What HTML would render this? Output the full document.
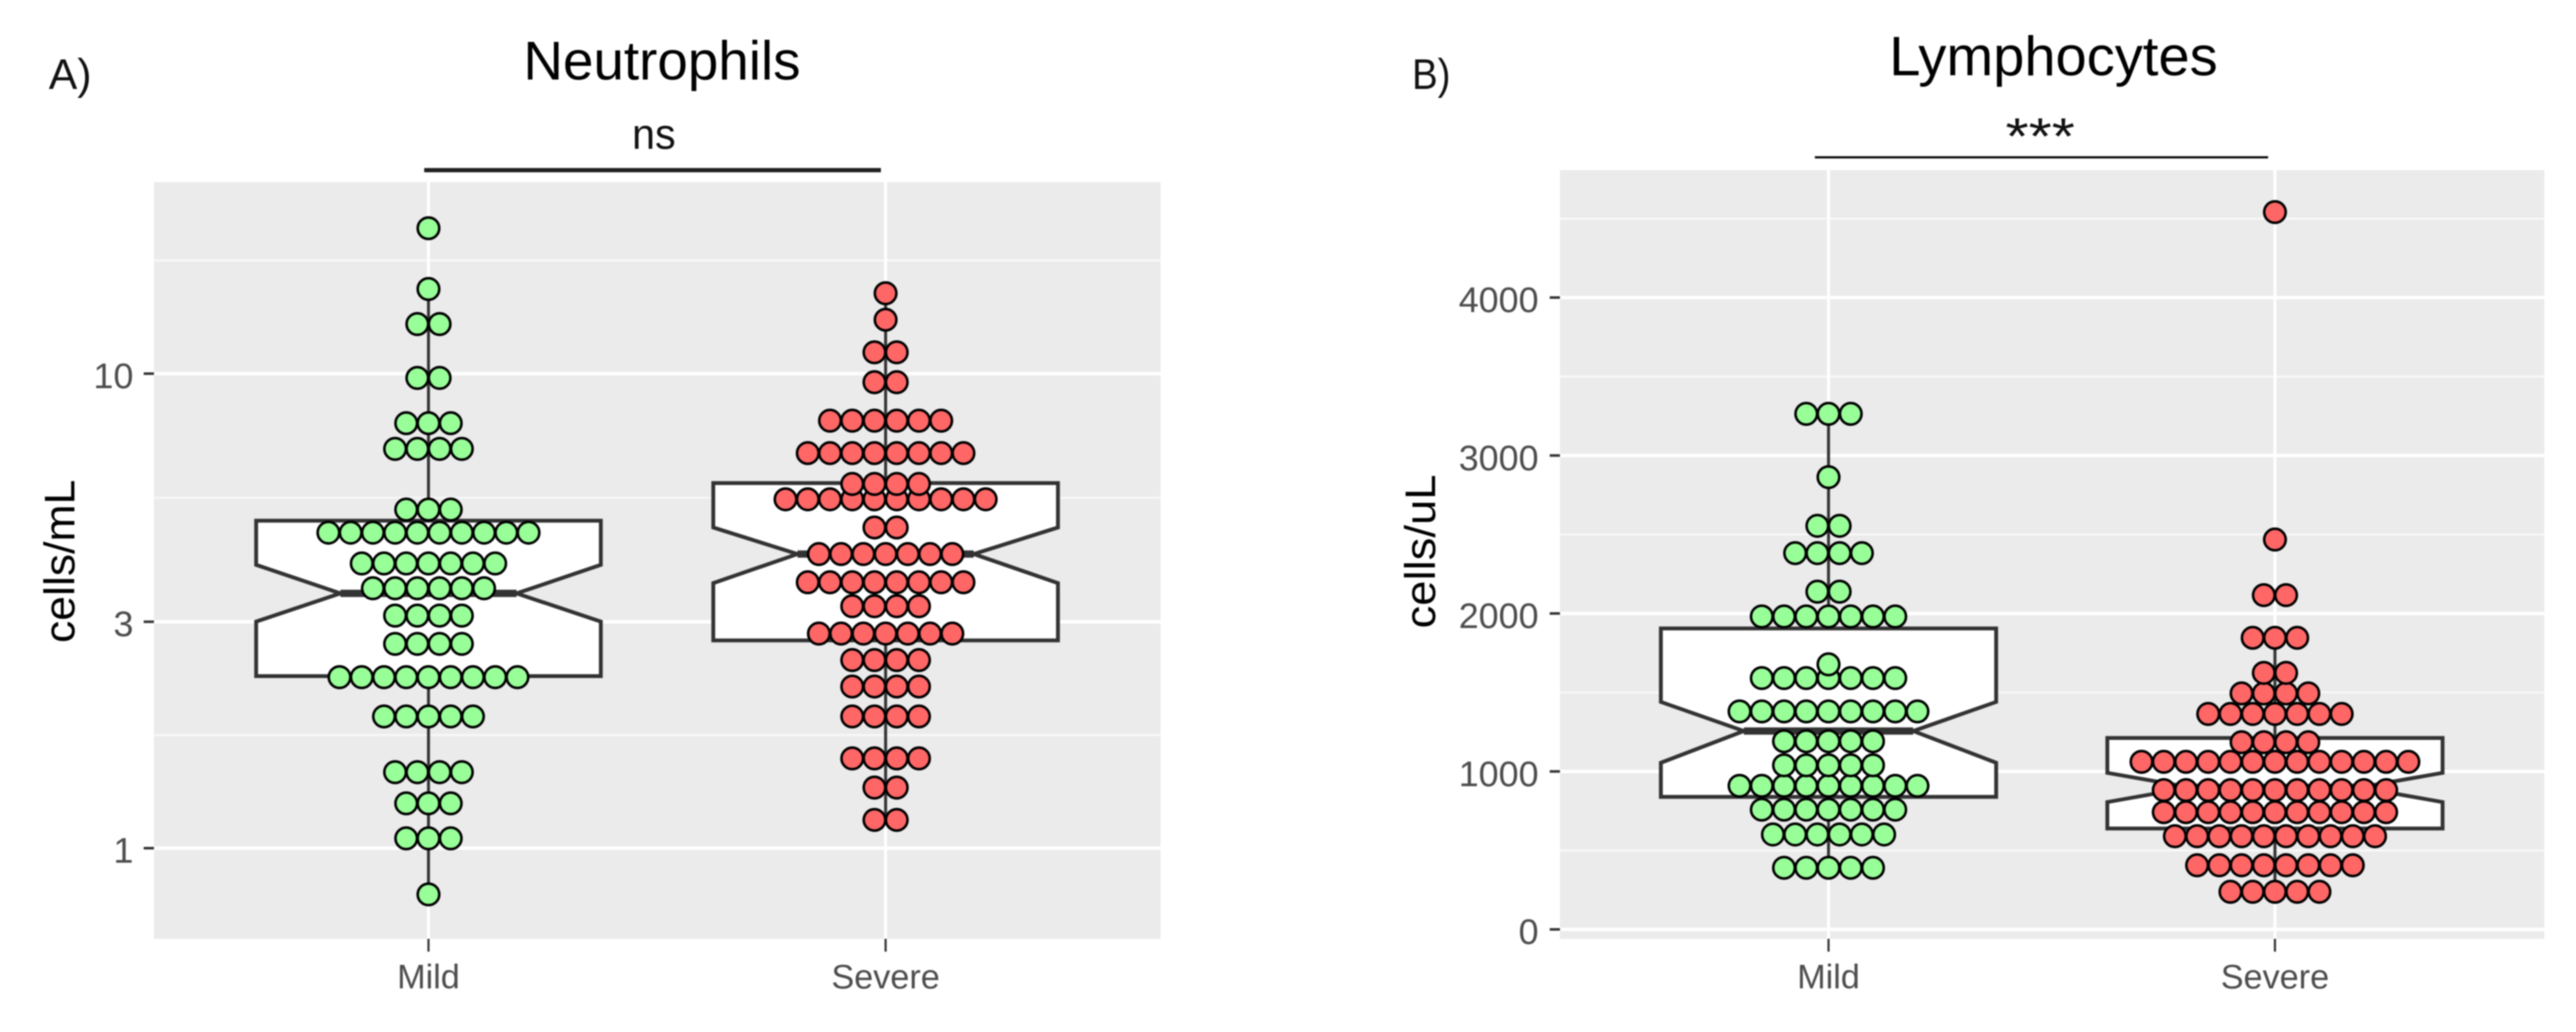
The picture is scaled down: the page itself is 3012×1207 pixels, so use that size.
<!DOCTYPE html>
<html>
<head>
<meta charset="utf-8">
<title>Neutrophils and Lymphocytes</title>
<style>
html,body{margin:0;padding:0;background:#fff;width:3012px;height:1207px;overflow:hidden}
svg{display:block;filter:blur(0.7px)}
text{font-family:"Liberation Sans",sans-serif}
</style>
</head>
<body>
<svg id="chart" xmlns="http://www.w3.org/2000/svg" width="3012" height="1207" viewBox="0 0 3012 1207"></svg>
<script>
// Shared categories
const categories = ['Mild', 'Severe'];

// Panel A: Neutrophils (log scale)
const neutroTicks = [1, 3, 10];
const neutroTickLabels = ['1', '3', '10'];
const neutroMinorTicks = [1.732, 5.477, 17.32];
const neutroMildValues = [0.799, 1.049, 1.243, 1.446, 1.895, 2.293, 2.695, 3.091, 3.53, 3.981, 4.623, 5.17, 6.941, 7.863, 9.795, 12.72, 15.08, 20.25];
const neutroMildCounts = [1, 3, 3, 4, 5, 9, 4, 4, 6, 7, 10, 3, 4, 3, 2, 2, 1, 1];
const neutroSevereValues = [1.147, 1.342, 1.546, 1.895, 2.191, 2.491, 2.833, 3.235, 3.634, 4.167, 4.74, 5.435, 5.855, 6.8, 7.96, 9.594, 11.09, 12.99, 14.77];
const neutroSevereCounts = [2, 2, 4, 4, 4, 4, 7, 4, 8, 7, 2, 10, 4, 8, 6, 2, 2, 1, 1];
// whiskerLow, q1, notchLow, median, notchHigh, q3, whiskerHigh
const neutroMildBox = [0.799, 2.305, 3.002, 3.443, 3.954, 4.899, 15.08];
const neutroSevereBox = [1.147, 2.741, 3.619, 4.167, 4.74, 5.881, 14.77];

// Panel B: Lymphocytes (linear scale)
const lymphoTicks = [0, 1000, 2000, 3000, 4000];
const lymphoTickLabels = ['0', '1000', '2000', '3000', '4000'];
const lymphoMinorTicks = [500, 1500, 2500, 3500, 4500];
const lymphoMildValues = [390, 601, 758, 909, 1039, 1191, 1380, 1591, 1678, 1981, 2138, 2382, 2555, 2863, 3264];
const lymphoMildCounts = [5, 6, 7, 9, 5, 5, 9, 7, 1, 7, 2, 4, 2, 1, 3];
const lymphoSevereValues = [238, 406, 590, 742, 882, 1061, 1185, 1364, 1494, 1624, 1846, 2116, 2468, 4541];
const lymphoSevereCounts = [5, 8, 10, 11, 11, 13, 4, 7, 4, 2, 3, 2, 1, 1];
const lymphoMildBox = [390, 839, 1055, 1256, 1440, 1905, 3264];
const lymphoSevereBox = [238, 639, 806, 899, 991, 1212, 1846];

const svg = document.getElementById('chart');
const NS = 'http://www.w3.org/2000/svg';
function make(tag, attrs, txt) {
  const n = document.createElementNS(NS, tag);
  for (const k in attrs) n.setAttribute(k, attrs[k]);
  if (txt !== undefined) n.textContent = txt;
  return n;
}

const panelA = {
  key: 'neutrophils', left: 180, right: 1357, top: 213, bottom: 1098,
  x: i => 501 + i * 534.5, y: v => 992 - 555 * Math.log10(v),
  halfBox: 201.5, halfNotch: 103, tickSize: 42, labelX: 156, tickX0: 168,
  ticks: neutroTicks, tickLabels: neutroTickLabels, minor: neutroMinorTicks,
  values: [neutroMildValues, neutroSevereValues], counts: [neutroMildCounts, neutroSevereCounts],
  boxes: [neutroMildBox, neutroSevereBox]
};
const panelB = {
  key: 'lymphocytes', left: 1824, right: 2975, top: 199, bottom: 1098,
  x: i => 2138 + i * 522, y: v => 1087 - 0.18475 * v,
  halfBox: 196, halfNotch: 99, tickSize: 42, labelX: 1799, tickX0: 1812,
  ticks: lymphoTicks, tickLabels: lymphoTickLabels, minor: lymphoMinorTicks,
  values: [lymphoMildValues, lymphoSevereValues], counts: [lymphoMildCounts, lymphoSevereCounts],
  boxes: [lymphoMildBox, lymphoSevereBox]
};
const fills = ['#98fe98', '#ff6666'];
const DOT_STEP = 26;

function drawPanel(p) {
  const bg = make('rect', {x: p.left, y: p.top, width: p.right - p.left, height: p.bottom - p.top, fill: '#ebebeb'});
  
  
  svg.appendChild(bg);

  p.minor.forEach(v => {
    const g = make('line', {x1: p.left, x2: p.right, y1: p.y(v), y2: p.y(v), stroke: '#f7f7f7', 'stroke-width': 2.5});
    
    
    svg.appendChild(g);
  });
  p.ticks.forEach((v, i) => {
    const g = make('line', {x1: p.left, x2: p.right, y1: p.y(v), y2: p.y(v), stroke: '#fff', 'stroke-width': 4});
    
    
    svg.appendChild(g);

    const t = make('line', {x1: p.tickX0, x2: p.left, y1: p.y(v), y2: p.y(v), stroke: '#333', 'stroke-width': 3});
    
    
    svg.appendChild(t);

    const l = make('text', {x: p.labelX, y: p.y(v) + 17, 'text-anchor': 'end', 'font-size': p.tickSize, fill: '#4d4d4d'}, p.tickLabels[i]);
    
    
    svg.appendChild(l);
  });

  categories.forEach((c, i) => {
    const cx = p.x(i);
    const g = make('line', {x1: cx, x2: cx, y1: p.top, y2: p.bottom, stroke: '#fff', 'stroke-width': 3.5});
    
    
    svg.appendChild(g);

    const t = make('line', {x1: cx, x2: cx, y1: p.bottom, y2: p.bottom + 15, stroke: '#333', 'stroke-width': 2.5});
    
    
    svg.appendChild(t);

    const l = make('text', {x: cx, y: 1156, 'text-anchor': 'middle', 'font-size': 40, fill: '#4d4d4d'}, c);
    
    
    svg.appendChild(l);
  });

  categories.forEach((c, i) => {
    const cx = p.x(i);
    const b = p.boxes[i];
    const key = p.key + '-' + c.toLowerCase();

    const w1 = make('line', {x1: cx, x2: cx, y1: p.y(b[6]), y2: p.y(b[5]), stroke: '#333', 'stroke-width': 3.5});
    
    
    svg.appendChild(w1);

    const w2 = make('line', {x1: cx, x2: cx, y1: p.y(b[1]), y2: p.y(b[0]), stroke: '#333', 'stroke-width': 3.5});
    
    
    svg.appendChild(w2);

    const L = cx - p.halfBox, R = cx + p.halfBox, nL = cx - p.halfNotch, nR = cx + p.halfNotch;
    const pts = [[L, p.y(b[1])], [L, p.y(b[2])], [nL, p.y(b[3])], [L, p.y(b[4])], [L, p.y(b[5])],
                 [R, p.y(b[5])], [R, p.y(b[4])], [nR, p.y(b[3])], [R, p.y(b[2])], [R, p.y(b[1])]];
    const box = make('polygon', {points: pts.map(q => q.join(',')).join(' '), fill: '#fff', stroke: '#333', 'stroke-width': 4.5, 'stroke-linejoin': 'miter'});
    
    
    svg.appendChild(box);

    const med = make('line', {x1: nL, x2: nR, y1: p.y(b[3]), y2: p.y(b[3]), stroke: '#333', 'stroke-width': 8.5});
    
    
    svg.appendChild(med);
  });

  categories.forEach((c, i) => {
    const cx = p.x(i);
    const vals = p.values[i], cnts = p.counts[i];
    vals.forEach((v, r) => {
      for (let k = 0; k < cnts[r]; k++) {
        const dx = (k - (cnts[r] - 1) / 2) * DOT_STEP;
        const d = make('circle', {cx: cx + dx, cy: p.y(v), r: 12.6, fill: fills[i], stroke: '#000', 'stroke-width': 3});
        
        
        svg.appendChild(d);
      }
    });
  });
}
drawPanel(panelA);
drawPanel(panelB);

function label(name, attrs, txt) {
  const t = make('text', attrs, txt);
  
  
  svg.appendChild(t);
}
label('panel-a-label', {x: 57, y: 104, 'font-size': 50, fill: '#111', textLength: 50, lengthAdjust: 'spacingAndGlyphs'}, 'A)');
label('panel-b-label', {x: 1651, y: 104, 'font-size': 50, fill: '#111', textLength: 45, lengthAdjust: 'spacingAndGlyphs'}, 'B)');
label('neutrophils-title', {x: 612, y: 93, 'font-size': 64, fill: '#000', textLength: 324, lengthAdjust: 'spacingAndGlyphs'}, 'Neutrophils');
label('lymphocytes-title', {x: 2209, y: 88, 'font-size': 65, fill: '#000', textLength: 384, lengthAdjust: 'spacingAndGlyphs'}, 'Lymphocytes');
label('neutrophils-significance', {x: 739, y: 174, 'font-size': 50, fill: '#111', textLength: 51, lengthAdjust: 'spacingAndGlyphs'}, 'ns');
label('lymphocytes-significance', {x: 2345, y: 180, 'font-size': 60, fill: '#111', textLength: 81, lengthAdjust: 'spacingAndGlyphs'}, '***');
label('neutrophils-y-axis-title', {x: 0, y: 0, transform: 'translate(87,752) rotate(-90)', 'font-size': 50, fill: '#000', textLength: 191, lengthAdjust: 'spacingAndGlyphs'}, 'cells/mL');
label('lymphocytes-y-axis-title', {x: 0, y: 0, transform: 'translate(1678,735) rotate(-90)', 'font-size': 50, fill: '#000', textLength: 180, lengthAdjust: 'spacingAndGlyphs'}, 'cells/uL');

const bracketA = make('line', {x1: 496, x2: 1030, y1: 199, y2: 199, stroke: '#222', 'stroke-width': 5});


svg.appendChild(bracketA);

const bracketB = make('line', {x1: 2122, x2: 2652, y1: 184, y2: 184, stroke: '#000', 'stroke-width': 2.5});


svg.appendChild(bracketB);
</script>
</body>
</html>
